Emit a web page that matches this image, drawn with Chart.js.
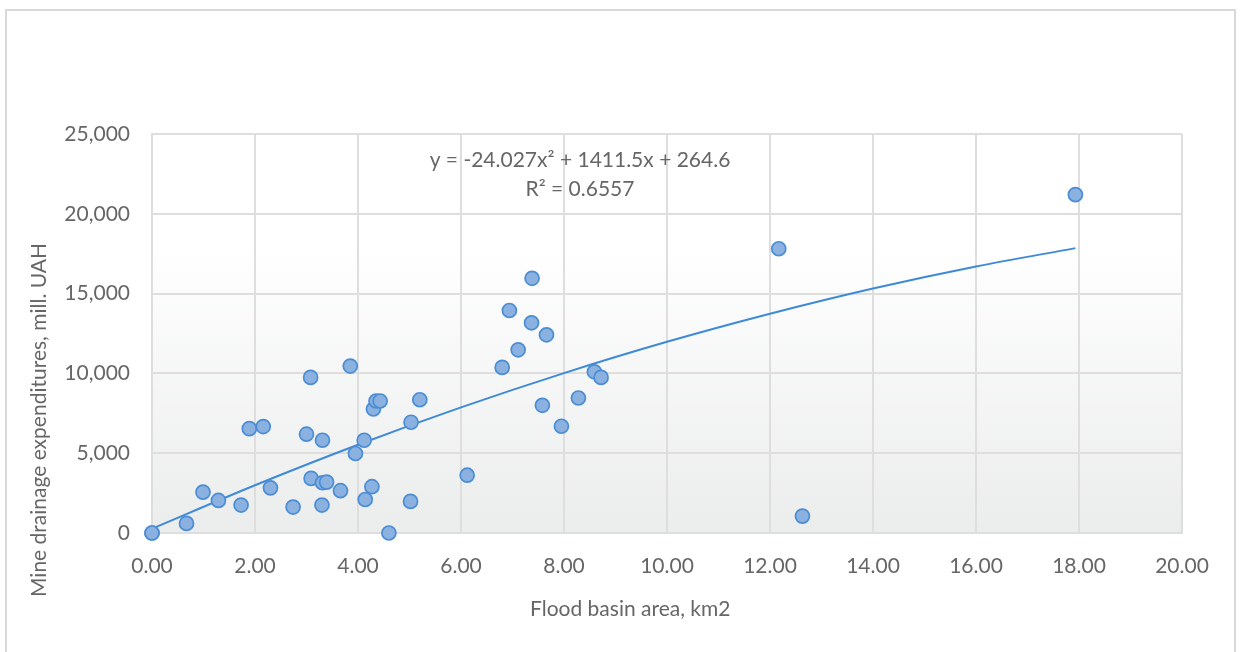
<!DOCTYPE html>
<html>
<head>
<meta charset="utf-8">
<script src="https://cdn.jsdelivr.net/npm/chart.js@4.4.1/dist/chart.umd.min.js"></script>
<style>
  html, body { margin: 0; padding: 0; background: #fff; overflow: hidden; }
  .frame { position: absolute; left: 5px; top: 9px; width: 1231px; height: 700px; border: 2px solid #d9d9d9; box-sizing: border-box; }
  .wrap { position: absolute; left: 0; top: 0; width: 1241px; height: 652px; }
</style>
</head>
<body>
<div class="frame"></div>
<div class="wrap"><canvas id="chart"></canvas></div>
<script>
// flood basin area, km2
const basinArea = [
  0, 0, 0.67, 0.99, 1.29, 1.73, 1.89, 2.16, 2.30, 2.74, 3.00, 3.08, 3.09, 3.30, 3.31, 3.31,
  3.39, 3.66, 3.85, 3.95, 4.12, 4.14, 4.27, 4.30, 4.35, 4.43, 4.60, 5.02, 5.03, 5.20, 6.12,
  6.80, 6.94, 7.11, 7.37, 7.38, 7.58, 7.66, 7.95, 8.28, 8.59, 8.72, 12.17, 12.63, 17.93
];
// mine drainage expenditures, mill. UAH
const drainageCost = [
  0, 0, 600, 2560, 2040, 1750, 6540, 6670, 2830, 1625, 6190, 9750, 3420, 1750, 5810, 3150,
  3190, 2650, 10460, 4980, 5810, 2100, 2900, 7770, 8270, 8270, 0, 1980, 6940, 8350, 3620,
  10375, 13940, 11480, 13170, 15960, 8000, 12420, 6690, 8460, 10100, 9750, 17810, 1060, 21200
];
// polynomial trendline
const trendX = [0, 2, 4, 6, 8, 10, 12, 14, 16, 17.93];
const trendY = [265, 2990, 5530, 7870, 10020, 11980, 13740, 15320, 16700, 17850];
const trendLabel = ['y = -24.027x\u00b2 + 1411.5x + 264.6', 'R\u00b2 = 0.6557'];

const xTitle = 'Flood basin area, km2';
const yTitle = 'Mine drainage expenditures, mill. UAH';

const FONT = 'Lato, "Open Sans", sans-serif';
const TEXT = '#666666';
const GRID = '#dedede';

const plotBackground = {
  id: 'plotBackground',
  beforeDraw(chart) {
    const { ctx, chartArea: a } = chart;
    const g = ctx.createLinearGradient(0, a.top, 0, a.bottom);
    g.addColorStop(0, '#ffffff');
    g.addColorStop(0.28, '#ffffff');
    g.addColorStop(1, '#ebecec');
    ctx.save();
    ctx.fillStyle = g;
    ctx.fillRect(a.left, a.top, a.right - a.left, a.bottom - a.top);
    ctx.restore();
  }
};

// trendline label and axis titles (titles sit where the source put them by hand)
const labels = {
  id: 'labels',
  afterDraw(chart) {
    const ctx = chart.ctx;
    ctx.save();
    ctx.fillStyle = TEXT;
    ctx.font = '21px ' + FONT;
    ctx.textAlign = 'center';
    ctx.textBaseline = 'middle';
    ctx.fillText(trendLabel[0], 580, 160);
    ctx.fillText(trendLabel[1], 580, 189);
    ctx.textAlign = 'left';
    ctx.fillText(xTitle, 530, 609);
    ctx.translate(39, 597);
    ctx.rotate(-Math.PI / 2);
    ctx.fillText(yTitle, 0, 0);
    ctx.restore();
  }
};

const points = basinArea.map((x, i) => ({ x: x, y: drainageCost[i] }));
const trend = trendX.map((x, i) => ({ x: x, y: trendY[i] }));

new Chart(document.getElementById('chart'), {
  type: 'scatter',
  data: {
    datasets: [
      {
        data: points,
        order: 1,
        clip: false,
        pointRadius: 7,
        pointHoverRadius: 7,
        pointBackgroundColor: '#8ab1e0',
        pointBorderColor: '#4b8dd4',
        pointBorderWidth: 1.7,
      },
      {
        type: 'line',
        data: trend,
        order: 2,
        showLine: true,
        borderColor: '#3e8ad6',
        borderWidth: 2,
        pointRadius: 0,
        cubicInterpolationMode: 'monotone',
        fill: false,
      },
    ],
  },
  options: {
    responsive: true,
    maintainAspectRatio: false,
    animation: false,
    events: [],
    layout: { padding: { top: 134, right: 59, left: 0, bottom: 0 } },
    plugins: {
      legend: { display: false },
      tooltip: { enabled: false },
    },
    scales: {
      x: {
        type: 'linear',
        min: 0,
        max: 20,
        afterFit: (axis) => { axis.height = 119; },
        ticks: {
          stepSize: 2,
          padding: 21,
          color: TEXT,
          font: { size: 21, family: FONT },
          callback: (v) => v.toFixed(2),
        },
        grid: { color: GRID, lineWidth: 2, drawTicks: false },
        border: { color: GRID, width: 2 },
      },
      y: {
        min: 0,
        max: 25000,
        afterFit: (axis) => { axis.width = 152; },
        ticks: {
          stepSize: 5000,
          padding: 22,
          color: TEXT,
          font: { size: 21, family: FONT },
          callback: (v) => v.toLocaleString('en-US'),
        },
        grid: { color: GRID, lineWidth: 2, drawTicks: false },
        border: { color: GRID, width: 2 },
      },
    },
  },
  plugins: [plotBackground, labels],
});
</script>
</body>
</html>
